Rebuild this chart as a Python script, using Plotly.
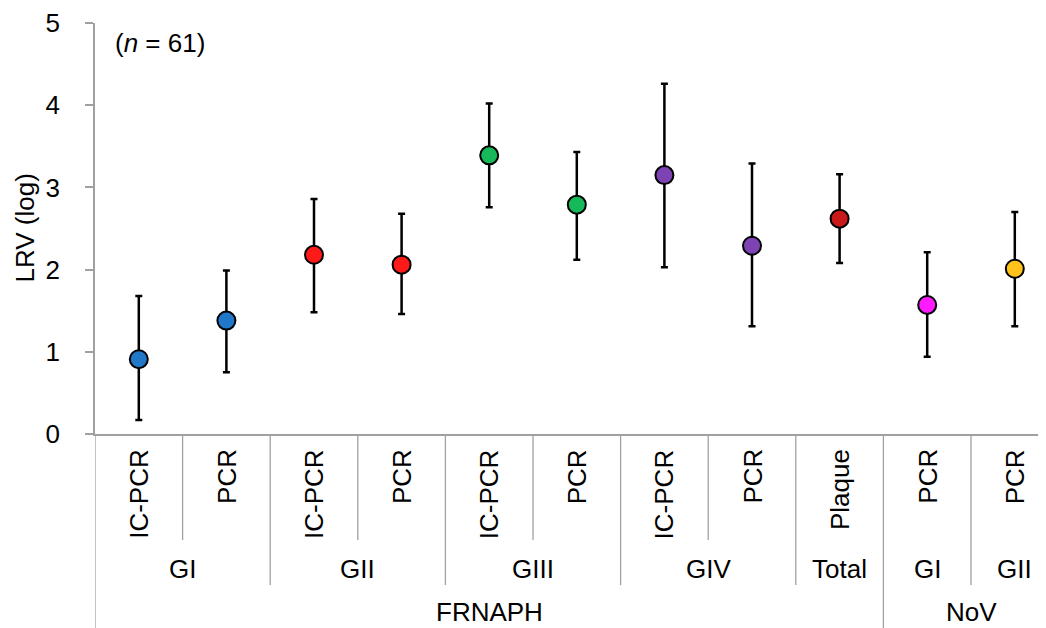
import plotly.graph_objects as go

# ---- data ----
methods = ["IC-PCR", "PCR", "IC-PCR", "PCR", "IC-PCR", "PCR", "IC-PCR", "PCR", "Plaque", "PCR", "PCR"]
groups = ["GI", "GII", "GIII", "GIV", "Total", "GI", "GII"]
group_sizes = [2, 2, 2, 2, 1, 1, 1]
families = ["FRNAPH", "NoV"]
family_sizes = [9, 2]
lrv_mean = [0.91, 1.38, 2.18, 2.06, 3.39, 2.79, 3.15, 2.29, 2.62, 1.57, 2.01]
lrv_upper = [1.68, 1.99, 2.86, 2.68, 4.02, 3.43, 4.26, 3.29, 3.16, 2.21, 2.70]
lrv_lower = [0.17, 0.75, 1.48, 1.46, 2.76, 2.12, 2.03, 1.31, 2.08, 0.94, 1.31]
point_colors = ["#2278C8", "#2278C8", "#FF1A1A", "#FF1A1A", "#16B85A", "#16B85A",
                "#7D43B4", "#7D43B4", "#C81A1A", "#FF1AFF", "#FFC21A"]
y_ticks = [0, 1, 2, 3, 4, 5]
n_label = "(<i>n</i> = 61)"

# ---- geometry (page has an 8px body margin) ----
OFF = 8
VW, VH = 1046, 628
W, H = VW - OFF, VH - OFF
plot_left_px, plot_top_px, plot_bottom_px = 95, 23, 434
L = plot_left_px - OFF
T = plot_top_px - OFF
plot_h = plot_bottom_px - plot_top_px
B = H - T - plot_h
R = 0
plot_w = W - L - R
cat_w = 87.6
x_max = -0.5 + plot_w / cat_w


def py(pix):
    """viewport pixel row -> paper y"""
    return (plot_bottom_px - pix) / plot_h


def px(pix):
    """viewport pixel column -> paper x"""
    return (pix - plot_left_px) / plot_w


FONT = "Liberation Sans, Arial, sans-serif"
FS = 26
GREY = "#A0A0A0"

xs = list(range(len(methods)))

fig = go.Figure()
fig.add_trace(go.Scatter(
    x=xs, y=lrv_mean, mode="markers",
    marker=dict(size=18, color=point_colors, line=dict(color="black", width=2)),
    error_y=dict(type="data", symmetric=False,
                 array=[u - m for u, m in zip(lrv_upper, lrv_mean)],
                 arrayminus=[m - l for m, l in zip(lrv_mean, lrv_lower)],
                 color="black", thickness=2.5, width=3.5),
    showlegend=False, cliponaxis=False,
))

shapes = []
annotations = []

group_edges = []
acc = 0
for s in group_sizes:
    acc += s
    group_edges.append(acc)
family_edges = []
acc = 0
for s in family_sizes:
    acc += s
    family_edges.append(acc)

for b in range(0, len(methods)):
    xb = b - 0.5
    if b == 0 or b in family_edges:
        bottom = VH + 2
    elif b in group_edges:
        bottom = 585
    else:
        bottom = 540
    shapes.append(dict(type="line", xref="x", yref="paper", x0=xb, x1=xb,
                       y0=0, y1=py(bottom), line=dict(color=GREY, width=1.3)))

# level 1 labels (rotated)
for i, m in enumerate(methods):
    annotations.append(dict(x=i, y=py(447), xref="x", yref="paper", text=m,
                            textangle=-90, showarrow=False, xanchor="center", yanchor="top",
                            font=dict(family=FONT, size=FS, color="black")))

# level 2 labels
start = 0
for g, s in zip(groups, group_sizes):
    annotations.append(dict(x=start + (s - 1) / 2, y=py(569), xref="x", yref="paper", text=g,
                            showarrow=False, xanchor="center", yanchor="middle",
                            font=dict(family=FONT, size=FS, color="black")))
    start += s

# level 3 labels
start = 0
for f, s in zip(families, family_sizes):
    annotations.append(dict(x=start + (s - 1) / 2, y=py(612), xref="x", yref="paper", text=f,
                            showarrow=False, xanchor="center", yanchor="middle",
                            font=dict(family=FONT, size=FS, color="black")))
    start += s

# y title
annotations.append(dict(x=px(24), y=0.5, xref="paper", yref="paper",
                        text="LRV (log)", textangle=-90, showarrow=False,
                        xanchor="center", yanchor="middle",
                        font=dict(family=FONT, size=FS, color="black")))
# n label
annotations.append(dict(x=px(113), y=py(43), xref="paper", yref="paper",
                        text=n_label, showarrow=False, xanchor="left", yanchor="middle",
                        font=dict(family=FONT, size=FS, color="black")))

fig.update_layout(
    width=W, height=H,
    margin=dict(l=L, r=R, t=T, b=B, pad=0),
    paper_bgcolor="white", plot_bgcolor="white",
    shapes=shapes, annotations=annotations,
    font=dict(family=FONT, size=FS, color="black"),
    xaxis=dict(range=[-0.5, x_max], showgrid=False, zeroline=False, showticklabels=False,
               ticks="", showline=True, linecolor=GREY, linewidth=1.5, fixedrange=True),
    yaxis=dict(range=[0, 5], tickvals=y_ticks, showgrid=False, zeroline=False,
               showline=True, linecolor=GREY, linewidth=1.5, ticks="outside",
               ticklen=8, tickcolor=GREY, tickwidth=1.5, ticklabelstandoff=20,
               tickfont=dict(family=FONT, size=FS, color="black"), fixedrange=True),
)

fig.write_html("out.html")
